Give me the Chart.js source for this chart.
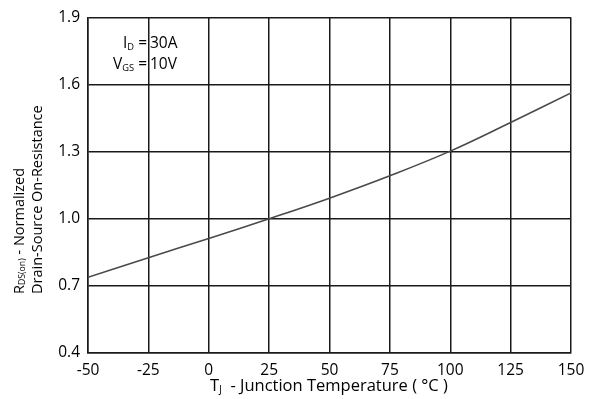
<!DOCTYPE html>
<html>
<head>
<meta charset="utf-8">
<script src="https://cdn.jsdelivr.net/npm/chart.js@4"></script>
<style>
  html, body { margin: 0; padding: 0; background: #fff; }
  #wrap { width: 596px; height: 399px; }
</style>
</head>
<body>
<div id="wrap"><canvas id="rdsChart"></canvas></div>
<script>
// Junction temperature (°C) and normalized RDS(on)
const temps = [-50, -25, 0, 25, 50, 75, 100, 125, 150];
const rdsNorm = [0.738, 0.826, 0.912, 1.0, 1.092, 1.192, 1.302, 1.430, 1.562];
const xTicks = [-50, -25, 0, 25, 50, 75, 100, 125, 150];
const yTicks = [0.4, 0.7, 1.0, 1.3, 1.6, 1.9];

const FONT = '"Open Sans", "DejaVu Sans", sans-serif';
const GRID = '#1a1a1a';

// text with a subscript part: [[text, isSub], ...]
function drawRich(ctx, parts, x, y, size, align) {
  let total = 0;
  const widths = parts.map(([t, sub]) => {
    ctx.font = (sub ? size * 0.6 : size) + 'px ' + FONT;
    const w = ctx.measureText(t).width;
    total += w;
    return w;
  });
  let cx = align === 'right' ? x - total : align === 'center' ? x - total / 2 : x;
  parts.forEach(([t, sub], i) => {
    ctx.font = (sub ? size * 0.6 : size) + 'px ' + FONT;
    ctx.textAlign = 'left';
    ctx.textBaseline = 'alphabetic';
    ctx.fillText(t, cx, sub ? y + size * 0.1 : y);
    cx += widths[i];
  });
}

const labelsPlugin = {
  id: 'labels',
  afterDraw(chart) {
    const ctx = chart.ctx;
    ctx.save();
    ctx.fillStyle = '#000';

    // conditions box
    drawRich(ctx, [['I', false], ['D', true], [' =', false]], 147, 48, 15.5, 'right');
    drawRich(ctx, [['30A', false]], 150, 48, 15.5, 'left');
    drawRich(ctx, [['V', false], ['GS', true], [' =', false]], 147, 69, 15.5, 'right');
    drawRich(ctx, [['10V', false]], 150, 69, 15.5, 'left');

    // x axis title
    drawRich(ctx, [['T', false], ['J', true], ['  - Junction Temperature ( °C )', false]], 329, 391, 16.5, 'center');

    // y axis title, two rotated lines
    ctx.translate(0, 294);
    ctx.rotate(-Math.PI / 2);
    drawRich(ctx, [['R', false], ['DS(on)', true], [' - Normalized', false]], 0, 24, 14.5, 'left');
    drawRich(ctx, [['Drain-Source On-Resistance', false]], 0, 42, 14.5, 'left');
    ctx.restore();
  }
};

new Chart(document.getElementById('rdsChart'), {
  type: 'line',
  data: {
    datasets: [{
      data: temps.map((t, i) => ({ x: t, y: rdsNorm[i] })),
      borderColor: '#4a4a4a',
      borderWidth: 1.6,
      pointRadius: 0,
      tension: 0.4,
      fill: false
    }]
  },
  options: {
    responsive: true,
    maintainAspectRatio: false,
    animation: false,
    layout: { padding: { top: 16, right: 25, left: 0, bottom: 0 } },
    plugins: { legend: { display: false }, tooltip: { enabled: false } },
    scales: {
      x: {
        type: 'linear',
        min: -50,
        max: 150,
        afterBuildTicks: s => { s.ticks = xTicks.map(v => ({ value: v })); },
        afterFit: s => { s.height = 46; },
        grid: { color: GRID, lineWidth: 1.5, drawTicks: false },
        border: { color: GRID, width: 1.5 },
        ticks: { color: '#000', padding: 8, font: { family: FONT, size: 15.5 }, maxRotation: 0 }
      },
      y: {
        min: 0.4,
        max: 1.9,
        afterBuildTicks: s => { s.ticks = yTicks.map(v => ({ value: v })); },
        afterFit: s => { s.width = 88; },
        grid: { color: GRID, lineWidth: 1.5, drawTicks: false },
        border: { color: GRID, width: 1.5 },
        ticks: {
          color: '#000', padding: 8, font: { family: FONT, size: 15.5 },
          callback: v => v.toFixed(1)
        }
      }
    }
  },
  plugins: [labelsPlugin]
});
</script>
</body>
</html>
